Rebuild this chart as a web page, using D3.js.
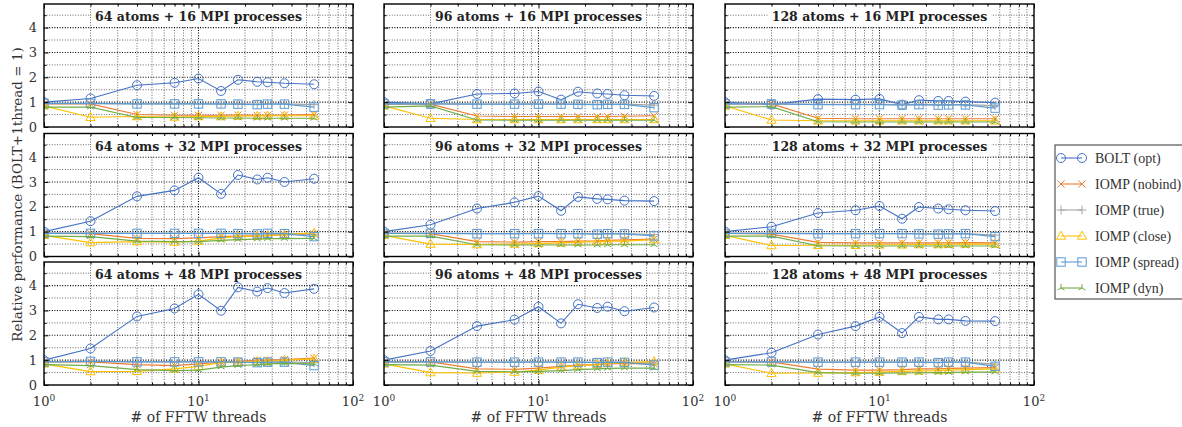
<!DOCTYPE html>
<html>
<head>
<meta charset="utf-8">
<script src="https://cdn.jsdelivr.net/npm/d3@7"></script>
<style>
  body { margin: 0; background: #fff; }
  svg { display: block; font-family: "DejaVu Serif", serif; }
</style>
</head>
<body>
<div id="chart"></div>
<script>
// x values (FFTW threads) shared by every panel
var threads = [1, 2, 4, 7, 10, 14, 18, 24, 28, 36, 56];
var atomCounts = [64, 96, 128];     // columns
var mpiCounts = [16, 32, 48];       // rows
var seriesNames = ["BOLT (opt)", "IOMP (nobind)", "IOMP (true)", "IOMP (close)", "IOMP (spread)", "IOMP (dyn)"];
var yTicks = [0, 1, 2, 3, 4];
var xTicks = [1, 10, 100];

// one row per panel: 16 MPI (64,96,128 atoms), 32 MPI (...), 48 MPI (...)
var boltOpt = [
  [1.0, 1.15, 1.68, 1.78, 1.95, 1.45, 1.90, 1.82, 1.80, 1.76, 1.72],
  [1.0, 0.93, 1.33, 1.35, 1.43, 1.10, 1.42, 1.35, 1.33, 1.28, 1.25],
  [1.0, 0.90, 1.12, 1.10, 1.13, 0.90, 1.08, 1.05, 1.05, 1.02, 0.98],
  [1.0, 1.42, 2.42, 2.66, 3.17, 2.52, 3.28, 3.10, 3.17, 3.00, 3.13],
  [1.0, 1.28, 1.93, 2.18, 2.43, 1.84, 2.40, 2.32, 2.30, 2.25, 2.23],
  [1.0, 1.20, 1.75, 1.86, 2.03, 1.52, 1.99, 1.93, 1.90, 1.86, 1.83],
  [1.0, 1.47, 2.76, 3.08, 3.65, 2.99, 3.93, 3.76, 3.90, 3.70, 3.87],
  [1.0, 1.37, 2.37, 2.63, 3.15, 2.48, 3.25, 3.10, 3.15, 2.97, 3.12],
  [1.0, 1.30, 2.03, 2.37, 2.74, 2.09, 2.74, 2.64, 2.64, 2.58, 2.57]
];
var iompNobind = [
  [0.93, 0.93, 0.50, 0.47, 0.47, 0.47, 0.48, 0.47, 0.47, 0.48, 0.50],
  [0.92, 0.92, 0.44, 0.42, 0.42, 0.42, 0.42, 0.42, 0.42, 0.43, 0.45],
  [0.93, 0.93, 0.35, 0.33, 0.33, 0.33, 0.33, 0.33, 0.33, 0.33, 0.33],
  [0.93, 0.92, 0.73, 0.72, 0.75, 0.80, 0.82, 0.83, 0.85, 0.88, 0.90],
  [0.93, 0.92, 0.60, 0.58, 0.60, 0.60, 0.62, 0.63, 0.65, 0.67, 0.70],
  [0.93, 0.90, 0.57, 0.55, 0.55, 0.55, 0.55, 0.55, 0.55, 0.56, 0.55],
  [0.93, 0.93, 0.82, 0.78, 0.85, 0.92, 0.95, 1.00, 1.00, 1.02, 1.08],
  [0.93, 0.93, 0.65, 0.63, 0.68, 0.75, 0.80, 0.82, 0.85, 0.87, 0.85],
  [0.93, 0.93, 0.64, 0.60, 0.60, 0.62, 0.65, 0.65, 0.67, 0.68, 0.70]
];
var iompTrue = [
  [0.94, 0.94, 0.93, 0.93, 0.93, 0.92, 0.93, 0.92, 0.93, 0.93, 0.90],
  [0.93, 0.93, 0.92, 0.92, 0.93, 0.92, 0.92, 0.91, 0.92, 0.92, 0.88],
  [0.93, 0.93, 0.91, 0.91, 0.91, 0.90, 0.91, 0.90, 0.90, 0.90, 0.86],
  [0.94, 0.94, 0.93, 0.93, 0.93, 0.93, 0.93, 0.92, 0.93, 0.93, 0.88],
  [0.93, 0.93, 0.92, 0.92, 0.93, 0.92, 0.92, 0.91, 0.92, 0.92, 0.88],
  [0.93, 0.93, 0.92, 0.92, 0.92, 0.92, 0.92, 0.91, 0.92, 0.92, 0.86],
  [0.94, 0.95, 0.93, 0.93, 0.94, 0.93, 0.93, 0.92, 0.93, 0.93, 0.90],
  [0.93, 0.93, 0.92, 0.92, 0.93, 0.92, 0.92, 0.91, 0.92, 0.92, 0.88],
  [0.93, 0.93, 0.92, 0.92, 0.92, 0.92, 0.92, 0.91, 0.92, 0.92, 0.84]
];
var iompClose = [
  [0.85, 0.39, 0.42, 0.40, 0.42, 0.42, 0.44, 0.44, 0.45, 0.45, 0.45],
  [0.85, 0.35, 0.30, 0.30, 0.30, 0.30, 0.30, 0.30, 0.30, 0.30, 0.30],
  [0.85, 0.28, 0.25, 0.25, 0.25, 0.25, 0.25, 0.25, 0.25, 0.25, 0.25],
  [0.85, 0.56, 0.60, 0.58, 0.62, 0.75, 0.80, 0.82, 0.85, 0.88, 0.95],
  [0.85, 0.50, 0.48, 0.50, 0.52, 0.55, 0.58, 0.60, 0.62, 0.62, 0.68],
  [0.85, 0.44, 0.45, 0.45, 0.47, 0.47, 0.48, 0.48, 0.49, 0.50, 0.50],
  [0.85, 0.54, 0.55, 0.65, 0.75, 0.90, 0.92, 0.95, 0.95, 1.00, 1.05],
  [0.85, 0.50, 0.48, 0.52, 0.60, 0.72, 0.78, 0.82, 0.88, 0.90, 0.95],
  [0.85, 0.47, 0.48, 0.50, 0.52, 0.55, 0.57, 0.58, 0.60, 0.62, 0.65]
];
var iompSpread = [
  [0.95, 0.95, 0.93, 0.93, 0.93, 0.93, 0.92, 0.90, 0.92, 0.92, 0.80],
  [0.93, 0.93, 0.92, 0.92, 0.92, 0.92, 0.91, 0.90, 0.91, 0.91, 0.78],
  [0.93, 0.93, 0.90, 0.90, 0.90, 0.88, 0.90, 0.88, 0.89, 0.89, 0.76],
  [0.93, 0.93, 0.93, 0.93, 0.93, 0.93, 0.92, 0.91, 0.93, 0.92, 0.80],
  [0.93, 0.93, 0.92, 0.92, 0.92, 0.92, 0.92, 0.90, 0.92, 0.91, 0.83],
  [0.93, 0.93, 0.92, 0.92, 0.92, 0.92, 0.91, 0.90, 0.91, 0.92, 0.80],
  [0.93, 0.95, 0.93, 0.93, 0.93, 0.93, 0.92, 0.90, 0.92, 0.92, 0.78],
  [0.93, 0.93, 0.92, 0.92, 0.92, 0.92, 0.92, 0.90, 0.92, 0.91, 0.80],
  [0.93, 0.93, 0.92, 0.92, 0.92, 0.92, 0.92, 0.90, 0.92, 0.92, 0.75]
];
var iompDyn = [
  [0.80, 0.80, 0.38, 0.38, 0.37, 0.36, 0.36, 0.35, 0.35, 0.35, 0.35],
  [0.80, 0.85, 0.28, 0.27, 0.27, 0.27, 0.27, 0.27, 0.27, 0.27, 0.27],
  [0.80, 0.82, 0.21, 0.20, 0.20, 0.20, 0.20, 0.20, 0.20, 0.20, 0.20],
  [0.82, 0.80, 0.62, 0.60, 0.60, 0.65, 0.68, 0.70, 0.72, 0.72, 0.73],
  [0.82, 0.82, 0.47, 0.46, 0.46, 0.46, 0.46, 0.46, 0.47, 0.47, 0.47],
  [0.82, 0.82, 0.43, 0.42, 0.42, 0.42, 0.42, 0.42, 0.42, 0.42, 0.42],
  [0.82, 0.78, 0.62, 0.58, 0.60, 0.72, 0.78, 0.82, 0.85, 0.87, 0.85],
  [0.82, 0.80, 0.55, 0.53, 0.55, 0.58, 0.62, 0.65, 0.67, 0.68, 0.68],
  [0.82, 0.80, 0.50, 0.47, 0.47, 0.48, 0.49, 0.50, 0.50, 0.52, 0.52]
];

var allSeries = [boltOpt, iompNobind, iompTrue, iompClose, iompSpread, iompDyn];
var colors = ["#4472c4", "#ed7d31", "#a5a5a5", "#ffc000", "#5b9bd5", "#70ad47"];
var markers = ["circle", "cross", "plus", "triangle", "square", "tri"];

// layout
var width = 1182, height = 427;
var colX = [44, 384, 725], panelW = 309;
var rowY = [4, 133.5, 262], panelH = 123;

var svg = d3.select("#chart").append("svg")
  .attr("width", width)
  .attr("height", height);

var x = d3.scaleLog().domain([1, 100]).range([0, panelW]);
var y = d3.scaleLinear().domain([0, 4.95]).range([panelH, 0]);

var minorX = [2, 3, 4, 5, 6, 7, 8, 9, 20, 30, 40, 50, 60, 70, 80, 90];
var halfY = [0.5, 1.5, 2.5, 3.5, 4.5];

function drawMarker(g, type, color) {
  if (type === "circle") {
    g.append("circle").attr("r", 4.5);
  } else if (type === "square") {
    g.append("rect").attr("x", -4.2).attr("y", -4.2).attr("width", 8.4).attr("height", 8.4);
  } else if (type === "triangle") {
    g.append("path").attr("d", "M0,-4.8L4.6,3.2L-4.6,3.2Z");
  } else if (type === "cross") {
    g.append("path").attr("d", "M-3.6,-3.6L3.6,3.6M-3.6,3.6L3.6,-3.6");
  } else if (type === "plus") {
    g.append("path").attr("d", "M-4.5,0L4.5,0M0,-4.5L0,4.5");
  } else {
    g.append("path").attr("d", "M0,0L0,-4M0,0L-3.5,2M0,0L3.5,2");
  }
  g.attr("fill", "none").attr("stroke", color).attr("stroke-width", 1);
}

var line = d3.line()
  .x(function(d) { return x(d[0]); })
  .y(function(d) { return y(d[1]); });

mpiCounts.forEach(function(mpi, r) {
  atomCounts.forEach(function(atoms, c) {
    var p = r * 3 + c;
    var g = svg.append("g").attr("transform", "translate(" + colX[c] + "," + rowY[r] + ")");

    g.append("clipPath").attr("id", "clip" + p)
      .append("rect").attr("width", panelW).attr("height", panelH);

    // dotted grid
    var grid = g.append("g").attr("fill", "none");
    grid.selectAll(".vg").data(minorX.concat([10])).enter().append("line")
      .attr("x1", function(d) { return x(d); }).attr("x2", function(d) { return x(d); })
      .attr("y1", 0).attr("y2", panelH)
      .attr("stroke", function(d) { return d === 10 ? "#000" : "#444"; })
      .attr("stroke-width", function(d) { return d === 10 ? 1.1 : 0.8; })
      .attr("stroke-dasharray", "1,1.6");
    grid.selectAll(".hg").data(yTicks.slice(1).concat(halfY)).enter().append("line")
      .attr("x1", 0).attr("x2", panelW)
      .attr("y1", function(d) { return y(d); }).attr("y2", function(d) { return y(d); })
      .attr("stroke", function(d) { return d % 1 === 0 ? "#000" : "#444"; })
      .attr("stroke-width", function(d) { return d % 1 === 0 ? 1.1 : 0.8; })
      .attr("stroke-dasharray", "1,1.6");

    // title with white box
    var tg = g.append("g");
    var title = tg.append("text")
      .attr("x", panelW / 2).attr("y", 17)
      .attr("text-anchor", "middle")
      .attr("font-weight", "bold")
      .attr("font-size", "12.5px")
      .attr("fill", "#222")
      .text(atoms + " atoms + " + mpi + " MPI processes");
    var tw = title.node().getComputedTextLength();
    tg.insert("rect", "text")
      .attr("x", panelW / 2 - tw / 2 - 4).attr("y", 2)
      .attr("width", tw + 8).attr("height", 21)
      .attr("fill", "#fff");

    // series
    var plot = g.append("g").attr("clip-path", "url(#clip" + p + ")");
    allSeries.forEach(function(s, k) {
      var pts = threads.map(function(t, i) { return [t, s[p][i]]; });
      plot.append("path").datum(pts)
        .attr("d", line)
        .attr("fill", "none")
        .attr("stroke", colors[k])
        .attr("stroke-width", 1.1);
      plot.selectAll(".m" + k).data(pts).enter().append("g")
        .attr("transform", function(d) { return "translate(" + x(d[0]) + "," + y(d[1]) + ")"; })
        .each(function() { drawMarker(d3.select(this), markers[k], colors[k]); });
    });

    // inward ticks on all four sides
    g.append("g").attr("transform", "translate(0," + panelH + ")")
      .call(d3.axisBottom(x).tickValues(xTicks).tickSize(-4.5).tickFormat(""));
    g.append("g").attr("transform", "translate(0," + panelH + ")")
      .call(d3.axisBottom(x).tickValues(minorX).tickSize(-2.5).tickFormat(""));
    g.append("g").call(d3.axisTop(x).tickValues(xTicks).tickSize(-4.5).tickFormat(""));
    g.append("g").call(d3.axisTop(x).tickValues(minorX).tickSize(-2.5).tickFormat(""));
    g.append("g").call(d3.axisLeft(y).tickValues(yTicks).tickSize(-4.5).tickFormat(""));
    g.append("g").call(d3.axisLeft(y).tickValues(halfY).tickSize(-2.5).tickFormat(""));
    g.append("g").attr("transform", "translate(" + panelW + ",0)")
      .call(d3.axisRight(y).tickValues(yTicks).tickSize(-4.5).tickFormat(""));
    g.append("g").attr("transform", "translate(" + panelW + ",0)")
      .call(d3.axisRight(y).tickValues(halfY).tickSize(-2.5).tickFormat(""));
    g.selectAll(".domain").remove();
    g.selectAll(".tick line").attr("stroke", "#000").attr("stroke-width", 1);

    g.append("rect").attr("width", panelW).attr("height", panelH)
      .attr("fill", "none").attr("stroke", "#000").attr("stroke-width", 1.4);

    // y tick labels only on the first column
    if (c === 0) {
      g.selectAll(".yl").data(yTicks).enter().append("text")
        .attr("x", -7).attr("y", function(d) { return y(d); })
        .attr("dy", "0.35em")
        .attr("text-anchor", "end")
        .attr("font-size", "13px")
        .attr("fill", "#333")
        .text(function(d) { return d; });
    }

    // x tick labels on the bottom row
    if (r === 2) {
      var xl = g.selectAll(".xl").data(xTicks).enter().append("text")
        .attr("x", function(d) { return x(d); })
        .attr("y", panelH + 21)
        .attr("text-anchor", "middle")
        .attr("font-size", "13px")
        .attr("fill", "#333");
      xl.append("tspan").text("10");
      xl.append("tspan").attr("dy", "-5").attr("font-size", "9px")
        .text(function(d) { return Math.round(Math.log10(d)); });
      g.append("text")
        .attr("x", panelW / 2).attr("y", panelH + 36.5)
        .attr("text-anchor", "middle")
        .attr("font-size", "14px")
        .attr("fill", "#333")
        .text("# of FFTW threads");
    }
  });
});

// y axis title
svg.append("text")
  .attr("transform", "translate(17," + (rowY[0] + (rowY[2] + panelH - rowY[0]) / 2) + ") rotate(-90)")
  .attr("text-anchor", "middle")
  .attr("dy", "0.35em")
  .attr("font-size", "13.5px")
  .attr("fill", "#333")
  .text("Relative performance (BOLT+1thread = 1)");

// legend
var legend = svg.append("g").attr("transform", "translate(1055,145)");
legend.append("rect").attr("width", 140).attr("height", 154)
  .attr("fill", "#fff").attr("stroke", "#333").attr("stroke-width", 1);
seriesNames.forEach(function(name, k) {
  var ly = 13 + k * 26;
  var row = legend.append("g").attr("transform", "translate(0," + ly + ")");
  row.append("line").attr("x1", 6).attr("x2", 27).attr("y1", 0).attr("y2", 0)
    .attr("stroke", colors[k]).attr("stroke-width", 1.1);
  [6, 27].forEach(function(mx) {
    drawMarker(row.append("g").attr("transform", "translate(" + mx + ",0)"), markers[k], colors[k]);
  });
  row.append("text").attr("x", 40).attr("dy", "0.35em")
    .attr("font-family", "'Liberation Serif', serif")
    .attr("font-size", "14px").attr("fill", "#333")
    .text(name);
});
</script>
</body>
</html>
